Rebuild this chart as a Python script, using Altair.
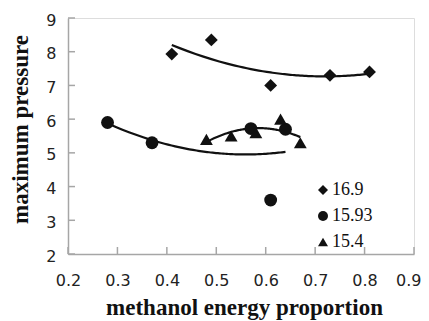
import altair as alt
import pandas as pd

# Data
series_names = ["16.9", "15.93", "15.4"]
x_169 = [0.41, 0.49, 0.61, 0.73, 0.81]
y_169 = [7.93, 8.35, 7.0, 7.3, 7.4]
x_1593 = [0.28, 0.37, 0.57, 0.61, 0.64]
y_1593 = [5.9, 5.3, 5.72, 3.6, 5.7]
x_154 = [0.48, 0.53, 0.58, 0.63, 0.67]
y_154 = [5.4, 5.5, 5.6, 6.0, 5.3]

x_ticks = [0.2, 0.3, 0.4, 0.5, 0.6, 0.7, 0.8, 0.9]
y_ticks = [2, 3, 4, 5, 6, 7, 8, 9]

rows = []
for name, xs, ys in zip(series_names, [x_169, x_1593, x_154], [y_169, y_1593, y_154]):
    for xv, yv in zip(xs, ys):
        rows.append({"series": name, "x": xv, "y": yv})
df = pd.DataFrame(rows)

W, H = 346, 236
AXIS_GRAY = "#a6a6a6"
SERIF = "Liberation Serif"

xscale = alt.Scale(domain=[0.2, 0.9], nice=False, zero=False)
yscale = alt.Scale(domain=[2, 9], nice=False, zero=False)

x_axis = alt.Axis(values=x_ticks, format=".1f", title="methanol energy proportion",
                  grid=False, ticks=False, domainColor=AXIS_GRAY, domainWidth=1.5,
                  labelFont="DejaVu Sans", labelFontSize=16, labelColor="#222222",
                  labelPadding=18, labelFlush=False, labelOverlap=False,
                  labelAlign={"condition": {"test": "datum.value >= 0.89", "value": "right"},
                              "value": "center"},
                  labelOffset={"condition": {"test": "datum.value >= 0.89", "value": 7},
                               "value": 0},
                  titleFont=SERIF, titleFontSize=23, titleFontWeight="bold",
                  titleColor="#111111", titleX=176, titleY=60,
                  titleBaseline="alphabetic")
y_axis = alt.Axis(values=y_ticks, format="d", title="maximum pressure",
                  grid=False, ticks=False, domainColor=AXIS_GRAY, domainWidth=1.5,
                  labelFont="DejaVu Sans", labelFontSize=16, labelColor="#222222",
                  labelPadding=12, labelOffset=2, labelOverlap=False,
                  titleFont=SERIF, titleFontSize=23, titleFontWeight="bold",
                  titleColor="#111111", titleX=-48, titleY=111,
                  titleBaseline="middle", titleAlign="center", titleAngle=270)

base = alt.Chart(df)

points = base.mark_point(filled=True, opacity=1, size=165, color="#111111").encode(
    x=alt.X("x:Q", scale=xscale, axis=x_axis),
    y=alt.Y("y:Q", scale=yscale, axis=y_axis),
    shape=alt.Shape("series:N",
                    scale=alt.Scale(domain=series_names, range=["diamond", "circle", "triangle-up"]),
                    sort=series_names,
                    legend=alt.Legend(title=None, orient="none", legendX=246, legendY=163,
                                      labelFont=SERIF, labelFontSize=18,
                                      labelColor="#111111", symbolFillColor="#111111",
                                      symbolStrokeColor="#111111", symbolSize=100,
                                      rowPadding=8, labelOffset=0, padding=0)),
)

trend = base.transform_regression(
    "x", "y", groupby=["series"], method="poly", order=2
).mark_line(color="#111111", strokeWidth=2.2).encode(
    x=alt.X("x:Q", scale=xscale, axis=x_axis),
    y=alt.Y("y:Q", scale=yscale, axis=y_axis),
    detail="series:N",
)

xt = pd.DataFrame({"t": x_ticks})
yt = pd.DataFrame({"t": y_ticks})
xtick_rules = alt.Chart(xt).mark_rule(color=AXIS_GRAY, strokeWidth=1.5).encode(
    x=alt.X("t:Q", scale=xscale, axis=x_axis), y=alt.value(H), y2=alt.value(H - 7))
ytick_rules = alt.Chart(yt).mark_rule(color=AXIS_GRAY, strokeWidth=1.5).encode(
    y=alt.Y("t:Q", scale=yscale, axis=y_axis), x=alt.value(0), x2=alt.value(7))

chart = alt.layer(xtick_rules, ytick_rules, trend, points).properties(
    width=W, height=H,
    autosize=alt.AutoSizeParams(type="none"),
    padding={"left": 60, "top": 10, "right": 7, "bottom": 67},
).configure_view(stroke=None).configure_legend(
    labelFont=SERIF, labelFontSize=18
).configure(background="white")

chart.save("out.html", embed_options={"renderer": "svg", "actions": False})
